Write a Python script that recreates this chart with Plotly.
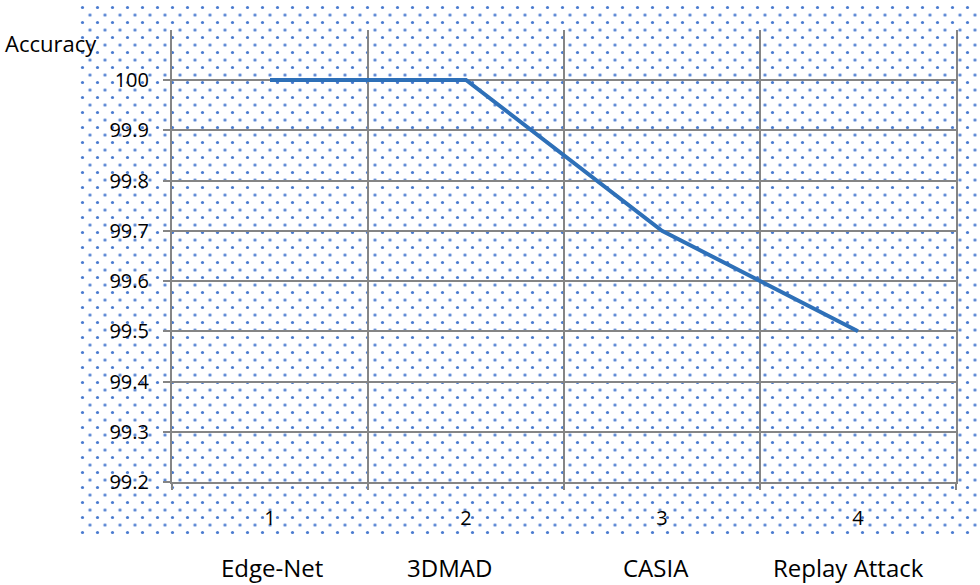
import plotly.graph_objects as go

# Data
categories = ["Edge-Net", "3DMAD", "CASIA", "Replay Attack"]
x_index = [1, 2, 3, 4]
accuracy = [100.0, 100.0, 99.7, 99.5]
y_ticks = [99.2, 99.3, 99.4, 99.5, 99.6, 99.7, 99.8, 99.9, 100.0]
y_tick_labels = ["99.2", "99.3", "99.4", "99.5", "99.6", "99.7", "99.8", "99.9", "100"]
x_boundaries = [0.5, 1.5, 2.5, 3.5, 4.5]
label_shifts = [2, -17, -6, -10]

W, H = 980, 585
FONT = "Open Sans"
TXT = "#000000"
GRID = "#858585"
DOT = "#4A7BD0"

fig = go.Figure()

# dotted background texture (two offset square patterns -> staggered)
rect_x = [0, 1, 1, 0, 0]
rect_y = [0, 0, 1, 1, 0]
for ax in ["", "2"]:
    fig.add_trace(go.Scatter(
        x=rect_x, y=rect_y, xaxis="x" + ax, yaxis="y" + ax,
        mode="none", fill="toself", fillcolor="rgba(0,0,0,0)",
        fillpattern=dict(shape=".", size=15, solidity=0.035, fgcolor=DOT,
                         bgcolor="rgba(0,0,0,0)", fgopacity=1),
        hoverinfo="skip", showlegend=False))

# main line
fig.add_trace(go.Scatter(
    x=x_index, y=accuracy, xaxis="x3", yaxis="y3",
    mode="lines", line=dict(color="#2E70B8", width=4),
    showlegend=False))

hidden = dict(visible=False, range=[0, 1], fixedrange=True, automargin=False)
bot_px = 540
fig.update_layout(
    width=W, height=H, autosize=False,
    margin=dict(l=0, r=0, t=0, b=0, pad=0, autoexpand=False),
    paper_bgcolor="white", plot_bgcolor="rgba(0,0,0,0)",
    font=dict(family=FONT, size=20, color=TXT),
    xaxis=dict(domain=[75 / W, 1], **hidden),
    yaxis=dict(domain=[(H - bot_px) / H, 1], **hidden),
    xaxis2=dict(domain=[(75 + 7.5) / W, 1], **hidden),
    yaxis2=dict(domain=[(H - bot_px + 7.5) / H, 1 - 7.5 / H], anchor="x2", **hidden),
    xaxis3=dict(
        domain=[172 / W, 956 / W], range=[0.5, 4.5], anchor="y3",
        tickvals=x_index, ticktext=[str(v) for v in x_index],
        showgrid=False, zeroline=False, automargin=False,
        ticks="outside", ticklen=17, tickcolor="rgba(0,0,0,0)",
        showline=True, linecolor=GRID, linewidth=2,
        minor=dict(tickvals=x_boundaries, showgrid=True, gridcolor=GRID,
                   gridwidth=2, ticks="outside", ticklen=6, tickcolor=GRID,
                   tickwidth=2),
        tickfont=dict(family=FONT, size=20, color=TXT),
        fixedrange=True,
    ),
    yaxis3=dict(
        domain=[(H - 482) / H, (H - 29.75) / H], range=[99.2, 100.1], anchor="x3",
        tickvals=y_ticks, ticktext=y_tick_labels,
        showgrid=True, gridcolor=GRID, gridwidth=2, zeroline=False, automargin=False,
        ticks="outside", ticklen=7, tickcolor=GRID, tickwidth=2,
        ticklabelstandoff=10,
        showline=True, mirror=True, linecolor=GRID, linewidth=2,
        tickfont=dict(family=FONT, size=20, color=TXT),
        fixedrange=True,
    ),
)

annotations = [dict(text="Accuracy", xref="paper", yref="paper",
                    x=3 / W, y=(H - 43) / H, xanchor="left", yanchor="middle",
                    showarrow=False, font=dict(family=FONT, size=22, color=TXT))]
for xi, cat, sh in zip(x_index, categories, label_shifts):
    annotations.append(dict(text=cat, xref="x3", yref="paper", x=xi, xshift=sh,
                            y=(H - 567) / H, xanchor="center", yanchor="middle",
                            showarrow=False,
                            font=dict(family=FONT, size=24, color=TXT)))
fig.update_layout(annotations=annotations)

fig.write_html("out.html", config={"displayModeBar": False},
               post_script="document.body.style.margin='0';")
